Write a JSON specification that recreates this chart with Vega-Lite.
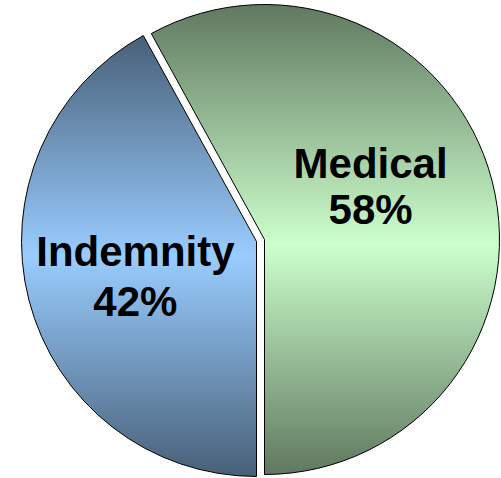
{
  "$schema": "https://vega.github.io/schema/vega-lite/v6.json",
  "autosize": {"type": "fit", "contains": "padding"},
  "width": 501,
  "height": 478,
  "padding": 0,
  "background": "white",
  "view": {"stroke": null},
  "data": {"values": [
    {"category": "Medical", "pct": 0.58},
    {"category": "Indemnity", "pct": 0.42}
  ]},
  "encoding": {
    "theta": {"field": "pct", "type": "quantitative", "stack": true, "scale": {"range": [3.14159265, 9.42477796]}},
    "order": {"field": "category", "sort": "ascending"}
  },
  "layer": [
    {
      "mark": {"type": "arc", "outerRadius": 235, "xOffset": 6.5, "yOffset": 3, "stroke": "black", "strokeWidth": 1,
        "fill": {"gradient": "linear", "x1": 0, "y1": 0, "x2": 0, "y2": 1,
          "stops": [{"offset": 0, "color": "#486078"}, {"offset": 0.5, "color": "#99ccff"}, {"offset": 1, "color": "#486078"}]}},
      "encoding": {
        "opacity": {"condition": {"test": "datum.category === 'Indemnity'", "value": 1}, "value": 0}
      }
    },
    {
      "mark": {"type": "arc", "outerRadius": 235, "xOffset": 14.5, "yOffset": 1, "stroke": "black", "strokeWidth": 1,
        "fill": {"gradient": "linear", "x1": 0, "y1": 0, "x2": 0, "y2": 1,
          "stops": [{"offset": 0, "color": "#607860"}, {"offset": 0.51, "color": "#ccffcc"}, {"offset": 1, "color": "#607860"}]}},
      "encoding": {
        "opacity": {"condition": {"test": "datum.category === 'Medical'", "value": 1}, "value": 0}
      }
    },
    {
      "mark": {"type": "text", "font": "Liberation Sans", "fontWeight": "bold", "fontSize": 42, "color": "black", "xOffset": 5.5, "yOffset": 9, "dy": -25, "baseline": "middle"},
      "encoding": {
        "radius": {"value": 124},
        "text": {"field": "category"},
        "opacity": {"condition": {"test": "datum.category === 'Indemnity'", "value": 1}, "value": 0}
      }
    },
    {
      "mark": {"type": "text", "font": "Liberation Sans", "fontWeight": "bold", "fontSize": 42, "color": "black", "xOffset": 5.5, "yOffset": 9, "dy": 25, "baseline": "middle"},
      "encoding": {
        "radius": {"value": 124},
        "text": {"field": "pct", "format": ".0%"},
        "opacity": {"condition": {"test": "datum.category === 'Indemnity'", "value": 1}, "value": 0}
      }
    },
    {
      "mark": {"type": "text", "font": "Liberation Sans", "fontWeight": "bold", "fontSize": 42, "color": "black", "xOffset": 16, "yOffset": -24, "dy": -23, "baseline": "middle"},
      "encoding": {
        "radius": {"value": 108},
        "text": {"field": "category"},
        "opacity": {"condition": {"test": "datum.category === 'Medical'", "value": 1}, "value": 0}
      }
    },
    {
      "mark": {"type": "text", "font": "Liberation Sans", "fontWeight": "bold", "fontSize": 42, "color": "black", "xOffset": 16, "yOffset": -24, "dy": 23, "baseline": "middle"},
      "encoding": {
        "radius": {"value": 108},
        "text": {"field": "pct", "format": ".0%"},
        "opacity": {"condition": {"test": "datum.category === 'Medical'", "value": 1}, "value": 0}
      }
    }
  ]
}
